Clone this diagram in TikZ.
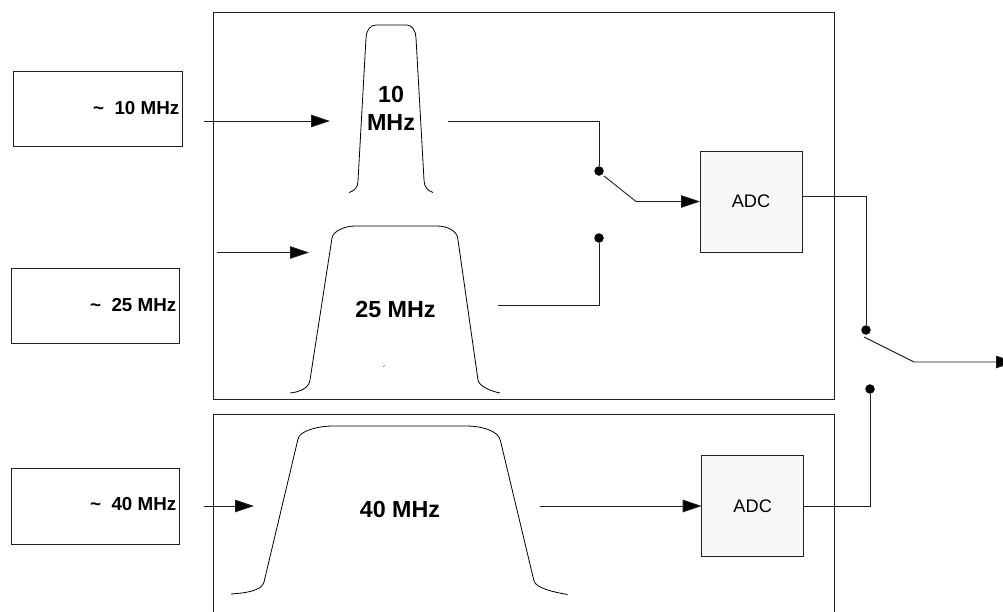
\documentclass[tikz,border=0pt]{standalone}
\usepackage{fontspec}
\setmainfont{Liberation Sans}
\usetikzlibrary{arrows.meta}
\definecolor{ink}{HTML}{202020}
\tikzset{
  x=1pt,y=-1pt,
  wire/.style={draw=ink,line width=0.9pt},
  flow/.style={wire,-{Triangle[length=19pt,width=12.5pt,fill=black]}},
  curve/.style={draw=black,line width=0.8pt},
  frame/.style={draw=ink,line width=1pt,fill=none},
  adcbox/.style={draw=ink,line width=1pt,fill=black!3,minimum width=102pt,minimum height=101pt,inner sep=0pt,outer sep=0pt,font=\fontsize{18.2}{20}\selectfont},
  srclabel/.style={anchor=east,inner sep=0pt,font=\fontsize{18.8}{20}\selectfont\bfseries},
  filterlabel/.style={inner sep=0pt,align=center,font=\fontsize{23.3}{28}\selectfont\bfseries},
  contact/.style={circle,fill=black,minimum size=9.5pt,inner sep=0pt,outer sep=0pt},
}
\begin{document}
\begin{tikzpicture}
\clip (0,0) rectangle (1003,611);
\useasboundingbox (0,0) rectangle (1003,611);
% enclosures
\node[frame,minimum width=621pt,minimum height=387pt,inner sep=0pt,outer sep=0pt] (top) at (523.5,205.5) {};
\node[frame,minimum width=621pt,minimum height=220pt,inner sep=0pt,outer sep=0pt] (bot) at (523.5,524.5) {};
% source boxes
\node[frame,minimum width=169pt,minimum height=75pt,inner sep=0pt,outer sep=0pt] (s1) at (97.5,108.5) {};
\node[frame,minimum width=168pt,minimum height=75pt,inner sep=0pt,outer sep=0pt] (s2) at (95,305.5) {};
\node[frame,minimum width=168pt,minimum height=76pt,inner sep=0pt,outer sep=0pt] (s3) at (95,506) {};
\node[srclabel] (l1) at (179.5,108.5) {\textasciitilde\ \ 10 MHz};
\node[srclabel] (l2) at (176.5,305.5) {\textasciitilde\ \ 25 MHz};
\node[srclabel] (l3) at (176.5,504) {\textasciitilde\ \ 40 MHz};
% filters
\draw[curve] (349,192.5) .. controls (354,191) and (358,188) .. (358,181)
  -- (366,38) .. controls (366,31) and (370,25) .. (376,25)
  -- (407,25) .. controls (412,25) and (416,31) .. (416,38)
  -- (424,180) .. controls (424,187) and (428,191) .. (433,192.5);
\draw[curve] (290,393) .. controls (300,392) and (309,388) .. (310,380)
  -- (332,238) .. controls (333,231) and (345,226) .. (355,226)
  -- (437,226) .. controls (447,226) and (458,231) .. (458,240)
  -- (478,380) .. controls (479,386) and (490,391) .. (500,393);
\draw[curve] (231,594) .. controls (245,593) and (262,591) .. (264,582)
  -- (298,439) .. controls (299,431) and (318,426) .. (333,426)
  -- (467,426) .. controls (482,426) and (499,431) .. (500.5,441)
  -- (534,581) .. controls (536,588) and (553,592) .. (567.5,594.5);
\draw[curve,line width=0.6pt] (383.5,366.5) -- (384.5,365.5);
\node[filterlabel] (f1) at (391,108) {10\\MHz};
\node[filterlabel] (f2) at (395.5,309) {25 MHz};
\node[filterlabel] (f3) at (400,509) {40 MHz};
% ADCs
\node[adcbox] (a1) at (751,201.5) {ADC};
\node[adcbox] (a2) at (752.7,506) {ADC};
% contacts
\node[contact] (c1) at (599,171) {};
\node[contact] (c2) at (599,238) {};
\node[contact] (c3) at (866,330) {};
\node[contact] (c4) at (870,389) {};
% free ends
\coordinate (i1s) at (204,121);
\coordinate (i1e) at (330,121);
\coordinate (i2s) at (217,252.5);
\coordinate (i2e) at (309,252.5);
\coordinate (i3s) at (204,506);
\coordinate (i3e) at (254,506);
\coordinate (o1) at (448,121);
\coordinate (o2) at (498,305);
\coordinate (o3) at (540,506);
\coordinate (sw1a) at (604,176);
\coordinate (sw1b) at (636,201.5);
\coordinate (sw2a) at (864,337);
\coordinate (sw2b) at (914,362);
\coordinate (out) at (1015,362);
% connectors
\draw[flow] (i1s) -- (i1e);
\draw[flow] (i2s) -- (i2e);
\draw[flow] (i3s) -- (i3e);
\draw[wire] (o1) -| (c1);
\draw[wire] (o2) -| (c2);
\draw[flow] (o3) -- (a2.west);
\draw[flow] (sw1a) -- (sw1b) -- (a1.west);
\draw[wire] (a1.east |- 0,196.5) -| (c3);
\draw[wire] (a2.east) -| (c4);
\draw[flow] (sw2a) -- (sw2b) -- (out);
\end{tikzpicture}
\end{document}
